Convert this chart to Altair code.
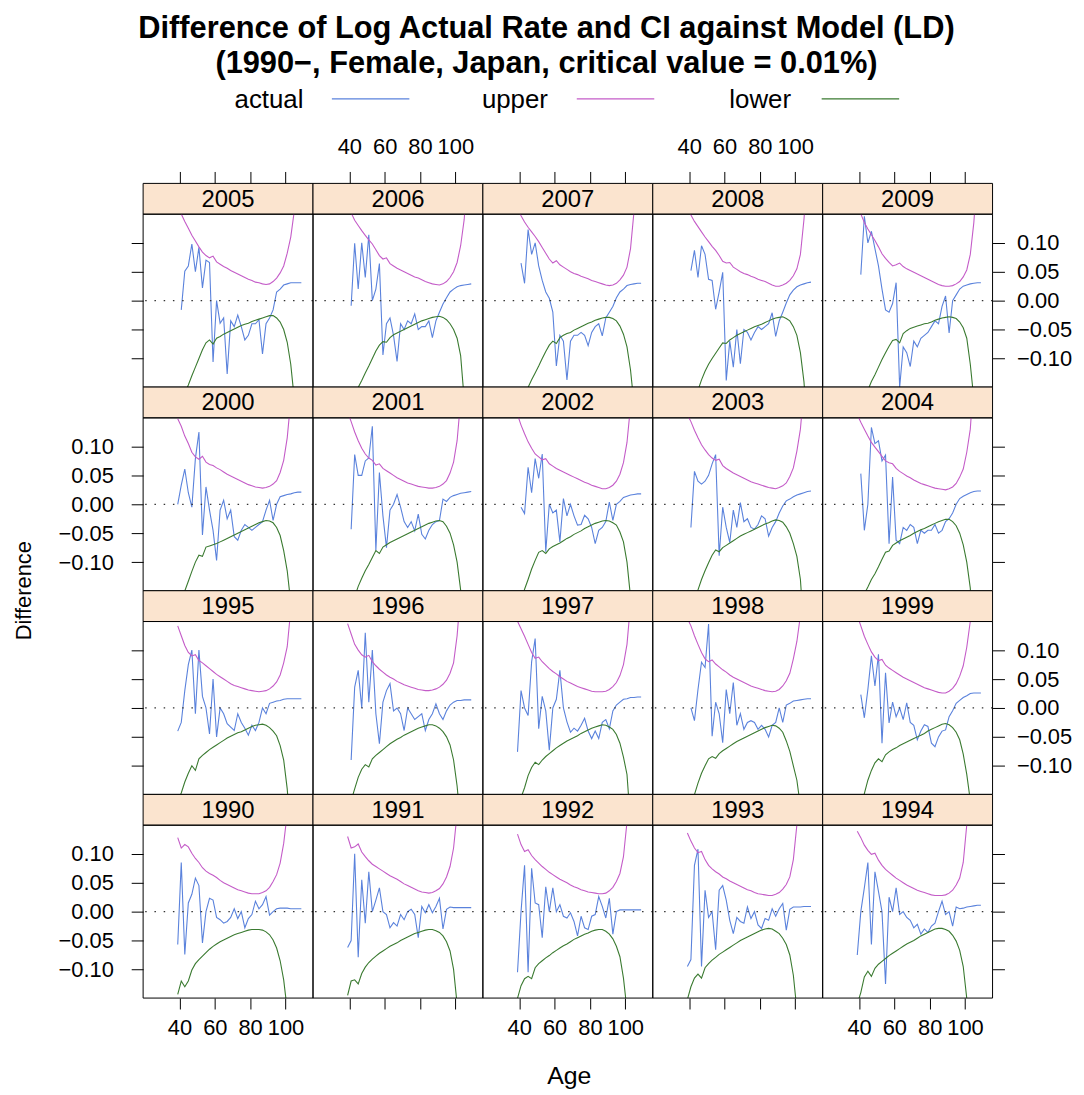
import altair as alt
import pandas as pd

FONT = "Liberation Sans"
AGES = list(range(39, 110, 2))  # 39, 41, ..., 109
SERIES = ["actual", "upper", "lower"]
COLORS = ["#5a82dc", "#c45cc8", "#3a7a30"]
STRIP_FILL = "#fbe4cf"
X_TICKS = [40, 60, 80, 100]
Y_TICKS = [-0.10, -0.05, 0.00, 0.05, 0.10]
ROW_YEARS = [
    [2005, 2006, 2007, 2008, 2009],
    [2000, 2001, 2002, 2003, 2004],
    [1995, 1996, 1997, 1998, 1999],
    [1990, 1991, 1992, 1993, 1994],
]
TITLE_LINES = [
    "Difference of Log Actual Rate and CI against Model (LD)",
    "(1990\u2212, Female, Japan, critical value = 0.01%)",
]
N = None

ACTUAL = {
    1990: [-0.057, 0.085, -0.074, 0.015, 0.030, 0.058,
           0.045, -0.054, 0.000, 0.023, 0.020, -0.010,
           -0.014, -0.020, -0.017, -0.010, 0.005, -0.012,
           0.000, -0.028, -0.012, -0.005, 0.018, 0.005,
           0.012, 0.026, -0.006, 0.000, 0.005, 0.006,
           0.006, 0.006, 0.005, 0.005, 0.005, 0.005],
    1991: [-0.062, -0.050, 0.100, -0.079, 0.055, -0.020,
           0.069, 0.000, 0.020, 0.041, 0.000, -0.005,
           -0.028, -0.019, -0.025, -0.005, -0.014, 0.000,
           0.004, -0.005, -0.045, 0.009, -0.002, 0.012,
           -0.002, 0.009, 0.023, -0.030, 0.004, 0.008,
           0.007, 0.007, 0.007, 0.007, 0.007, 0.007],
    1992: [-0.105, 0.000, 0.080, -0.105, 0.075, 0.015,
           0.012, -0.045, 0.043, 0.000, 0.041, 0.000,
           0.012, -0.008, -0.011, -0.002, -0.017, -0.042,
           -0.008, -0.028, -0.031, -0.008, -0.005, 0.026,
           0.009, -0.011, 0.023, -0.039, 0.000, 0.003,
           0.003, 0.003, 0.003, 0.003, 0.003, 0.003],
    1993: [-0.095, -0.083, 0.080, 0.108, -0.095, 0.037,
           -0.010, 0.000, -0.066, 0.037, 0.045, 0.020,
           -0.015, -0.038, -0.010, -0.017, -0.020, 0.008,
           -0.012, 0.000, -0.023, -0.029, -0.012, -0.015,
           0.005, -0.008, 0.005, 0.014, -0.032, 0.004,
           0.008, 0.008, 0.008, 0.009, 0.009, 0.009],
    1994: [-0.075, 0.000, 0.041, 0.085, -0.057, 0.069,
           0.035, 0.000, -0.125, 0.025, 0.000, 0.041,
           -0.005, 0.000, -0.010, -0.015, -0.028, -0.022,
           -0.039, -0.030, -0.036, -0.025, -0.020, 0.000,
           0.018, -0.005, 0.000, -0.025, 0.008, 0.005,
           0.006, 0.008, 0.009, 0.010, 0.011, 0.011],
    1995: [-0.040, -0.025, 0.030, 0.075, 0.100, -0.010,
           0.100, 0.020, 0.000, -0.045, 0.050, -0.050,
           0.000, -0.010, -0.027, -0.033, -0.039, -0.010,
           -0.025, -0.035, -0.047, -0.030, -0.039, -0.025,
           0.000, -0.010, 0.008, 0.010, 0.012, 0.013,
           0.015, 0.016, 0.016, 0.016, 0.016, 0.016],
    1996: [N, -0.090, 0.036, 0.065, 0.000, 0.130,
           0.010, 0.100, -0.010, -0.062, 0.010, 0.030,
           0.042, -0.005, 0.000, -0.010, -0.039, 0.000,
           -0.010, -0.020, -0.015, -0.010, -0.039, -0.020,
           -0.010, 0.007, -0.010, -0.020, -0.005, 0.005,
           0.010, 0.013, 0.013, 0.014, 0.014, 0.014],
    1997: [-0.076, 0.030, 0.000, -0.013, 0.080, 0.120,
           -0.036, 0.020, -0.005, -0.073, 0.000, 0.015,
           0.065, 0.000, -0.024, -0.042, -0.035, -0.040,
           -0.030, -0.018, -0.040, -0.053, -0.040, -0.053,
           -0.025, -0.020, -0.036, -0.005, 0.005, 0.010,
           0.015, 0.016, 0.018, 0.018, 0.019, 0.019],
    1998: [N, 0.000, -0.022, 0.032, 0.079, 0.070,
           0.145, -0.049, 0.010, -0.010, -0.060, 0.032,
           -0.010, 0.044, -0.030, -0.010, -0.037, -0.025,
           -0.022, -0.025, -0.037, -0.030, -0.037, -0.050,
           -0.030, -0.025, 0.000, -0.025, 0.005, 0.008,
           0.012, 0.013, 0.014, 0.015, 0.016, 0.016],
    1999: [N, 0.023, -0.017, 0.032, 0.090, 0.038,
           0.093, -0.061, 0.061, -0.026, 0.010, -0.015,
           0.000, -0.020, 0.009, -0.025, -0.030, -0.055,
           -0.040, -0.029, -0.032, -0.061, -0.067, -0.050,
           -0.040, -0.038, -0.015, -0.005, 0.008, 0.013,
           0.018, 0.021, 0.025, 0.026, 0.026, 0.026],
    2000: [0.000, 0.033, 0.061, 0.020, -0.005, 0.079,
           0.125, -0.053, 0.030, -0.010, -0.045, -0.097,
           -0.010, 0.007, -0.025, -0.010, -0.056, -0.062,
           -0.045, -0.035, -0.040, -0.045, -0.040, -0.035,
           -0.030, -0.010, 0.007, -0.028, 0.000, 0.013,
           0.015, 0.017, 0.018, 0.020, 0.021, 0.021],
    2001: [N, -0.043, 0.086, 0.050, 0.050, 0.075,
           0.080, 0.135, -0.080, 0.055, -0.020, -0.075,
           -0.010, 0.000, 0.017, -0.005, -0.030, -0.040,
           -0.030, -0.046, -0.017, -0.052, -0.060, -0.045,
           -0.035, -0.030, -0.028, 0.009, 0.005, 0.012,
           0.015, 0.017, 0.019, 0.020, 0.021, 0.022],
    2002: [N, -0.005, -0.016, 0.064, 0.020, 0.079,
           0.045, 0.087, -0.082, 0.000, -0.015, -0.010,
           -0.065, 0.010, -0.020, 0.000, -0.020, -0.036,
           -0.035, -0.019, -0.025, -0.040, -0.068, -0.045,
           -0.040, -0.030, 0.004, -0.028, 0.000, 0.005,
           0.012, 0.014, 0.016, 0.017, 0.018, 0.018],
    2003: [N, -0.040, 0.057, 0.040, 0.035, 0.040,
           0.050, 0.070, 0.086, -0.089, -0.005, -0.040,
           -0.066, -0.010, -0.040, 0.003, -0.030, -0.025,
           -0.040, -0.043, -0.035, -0.020, -0.025, -0.055,
           -0.040, -0.030, -0.015, -0.003, 0.006, 0.009,
           0.013, 0.016, 0.018, 0.020, 0.022, 0.023],
    2004: [N, 0.053, -0.045, 0.000, 0.133, 0.105,
           0.110, 0.075, 0.085, -0.068, 0.047, -0.062,
           -0.068, -0.040, -0.045, -0.035, -0.040, -0.068,
           -0.045, -0.050, -0.045, -0.045, -0.035, -0.050,
           -0.045, -0.030, -0.025, -0.015, 0.000, 0.010,
           0.014, 0.017, 0.020, 0.022, 0.023, 0.023],
    2005: [N, -0.016, 0.051, 0.060, 0.098, 0.050,
           0.092, 0.022, 0.070, 0.066, -0.106, 0.000,
           -0.039, -0.030, -0.127, -0.035, -0.045, -0.025,
           -0.045, -0.068, -0.060, -0.040, -0.040, -0.033,
           -0.092, -0.040, -0.030, -0.016, 0.015, 0.020,
           0.027, 0.029, 0.031, 0.031, 0.031, 0.031],
    2006: [N, -0.009, 0.099, 0.020, 0.100, 0.040,
           0.114, 0.000, 0.020, 0.064, -0.094, -0.040,
           -0.030, -0.060, -0.105, -0.040, -0.050, -0.035,
           -0.040, -0.023, -0.050, -0.045, -0.045, -0.035,
           -0.064, -0.035, -0.020, -0.006, 0.005, 0.015,
           0.020, 0.024, 0.026, 0.027, 0.028, 0.029],
    2007: [N, 0.065, 0.030, 0.123, 0.080, 0.100,
           0.060, 0.035, 0.015, 0.004, -0.020, -0.113,
           -0.060, -0.070, -0.137, -0.070, -0.060, -0.060,
           -0.055, -0.060, -0.078, -0.055, -0.045, -0.040,
           -0.061, -0.030, -0.020, -0.010, 0.005, 0.015,
           0.020, 0.026, 0.028, 0.029, 0.030, 0.030],
    2008: [N, 0.052, 0.087, 0.040, 0.095, 0.080,
           0.037, 0.035, -0.015, 0.015, 0.049, -0.138,
           -0.070, -0.115, -0.050, -0.109, -0.050, -0.055,
           -0.068, -0.055, -0.045, -0.050, -0.045, -0.040,
           -0.021, -0.062, -0.035, -0.020, -0.004, 0.010,
           0.018, 0.024, 0.027, 0.029, 0.031, 0.032],
    2009: [N, 0.045, 0.146, 0.100, 0.120, 0.090,
           0.060, 0.020, -0.016, -0.020, -0.005, 0.031,
           -0.150, -0.080, -0.090, -0.114, -0.070, -0.080,
           -0.065, -0.060, -0.055, -0.045, -0.035, -0.040,
           -0.010, 0.008, -0.056, 0.000, 0.010, 0.020,
           0.025, 0.027, 0.029, 0.030, 0.031, 0.031],
}

UPPER = {
    1990: [0.128, 0.110, 0.116, 0.112, 0.101, 0.092,
           0.085, 0.076, 0.070, 0.066, 0.063, 0.059,
           0.054, 0.050, 0.047, 0.044, 0.041, 0.038,
           0.036, 0.034, 0.032, 0.031, 0.031, 0.031,
           0.033, 0.036, 0.042, 0.052, 0.064, 0.084,
           0.118, 0.170, 0.250, N, N, N],
    1991: [0.130, 0.110, 0.112, 0.117, 0.103, 0.095,
           0.088, 0.082, 0.078, 0.074, 0.070, 0.066,
           0.062, 0.059, 0.056, 0.052, 0.048, 0.045,
           0.042, 0.039, 0.036, 0.034, 0.033, 0.032,
           0.033, 0.036, 0.040, 0.048, 0.060, 0.078,
           0.110, 0.170, 0.250, N, N, N],
    1992: [0.134, 0.116, 0.104, 0.107, 0.097, 0.090,
           0.084, 0.078, 0.073, 0.068, 0.064, 0.060,
           0.056, 0.053, 0.050, 0.046, 0.043, 0.041,
           0.038, 0.036, 0.034, 0.033, 0.032, 0.031,
           0.031, 0.032, 0.036, 0.042, 0.052, 0.066,
           0.095, 0.155, 0.250, N, N, N],
    1993: [0.136, 0.122, 0.110, 0.102, 0.104, 0.090,
           0.080, 0.074, 0.069, 0.065, 0.060, 0.057,
           0.053, 0.050, 0.047, 0.044, 0.041, 0.038,
           0.036, 0.033, 0.031, 0.030, 0.029, 0.028,
           0.028, 0.030, 0.033, 0.039, 0.047, 0.060,
           0.090, 0.150, 0.250, N, N, N],
    1994: [0.139, 0.128, 0.115, 0.106, 0.099, 0.101,
           0.089, 0.080, 0.073, 0.068, 0.063, 0.058,
           0.054, 0.050, 0.046, 0.043, 0.040, 0.037,
           0.035, 0.033, 0.031, 0.029, 0.028, 0.028,
           0.028, 0.029, 0.032, 0.037, 0.046, 0.058,
           0.085, 0.150, 0.250, N, N, N],
    1995: [0.142, 0.125, 0.108, 0.096, 0.090, 0.092,
           0.082, 0.078, 0.073, 0.068, 0.063, 0.058,
           0.054, 0.050, 0.046, 0.042, 0.039, 0.037,
           0.035, 0.033, 0.031, 0.030, 0.029, 0.028,
           0.029, 0.030, 0.033, 0.038, 0.045, 0.057,
           0.078, 0.106, 0.170, 0.250, N, N],
    1996: [0.146, 0.128, 0.110, 0.100, 0.092, 0.088,
           0.091, 0.080, 0.073, 0.067, 0.062, 0.057,
           0.053, 0.050, 0.046, 0.043, 0.040, 0.038,
           0.036, 0.034, 0.032, 0.031, 0.030, 0.030,
           0.031, 0.033, 0.036, 0.041, 0.048, 0.060,
           0.078, 0.125, 0.200, 0.300, N, N],
    1997: [0.150, 0.137, 0.124, 0.110, 0.096, 0.086,
           0.088, 0.080, 0.074, 0.068, 0.063, 0.059,
           0.054, 0.050, 0.046, 0.043, 0.040, 0.037,
           0.035, 0.033, 0.031, 0.029, 0.028, 0.028,
           0.028, 0.029, 0.032, 0.037, 0.044, 0.056,
           0.075, 0.110, 0.180, 0.300, N, N],
    1998: [0.155, 0.142, 0.125, 0.110, 0.096, 0.085,
           0.080, 0.083, 0.076, 0.071, 0.066, 0.062,
           0.057, 0.053, 0.050, 0.047, 0.044, 0.041,
           0.038, 0.036, 0.034, 0.032, 0.030, 0.029,
           0.028, 0.029, 0.032, 0.038, 0.047, 0.060,
           0.085, 0.115, 0.160, 0.250, N, N],
    1999: [0.160, 0.142, 0.124, 0.110, 0.097, 0.088,
           0.082, 0.084, 0.074, 0.069, 0.065, 0.061,
           0.057, 0.053, 0.050, 0.047, 0.044, 0.041,
           0.038, 0.035, 0.033, 0.031, 0.029, 0.027,
           0.026, 0.026, 0.029, 0.034, 0.042, 0.055,
           0.073, 0.105, 0.150, 0.250, N, N],
    2000: [0.148, 0.135, 0.118, 0.105, 0.090, 0.082,
           0.078, 0.083, 0.073, 0.069, 0.067, 0.063,
           0.060, 0.056, 0.052, 0.049, 0.046, 0.043,
           0.040, 0.037, 0.034, 0.032, 0.030, 0.029,
           0.028, 0.029, 0.031, 0.035, 0.041, 0.055,
           0.076, 0.115, 0.180, 0.300, N, N],
    2001: [0.160, 0.143, 0.125, 0.110, 0.097, 0.087,
           0.080, 0.076, 0.068, 0.070, 0.062, 0.058,
           0.054, 0.050, 0.046, 0.043, 0.040, 0.037,
           0.035, 0.033, 0.031, 0.030, 0.029, 0.028,
           0.028, 0.029, 0.031, 0.035, 0.041, 0.054,
           0.073, 0.110, 0.180, 0.300, N, N],
    2002: [0.155, 0.137, 0.122, 0.108, 0.097, 0.087,
           0.082, 0.077, 0.079, 0.070, 0.066, 0.062,
           0.059, 0.056, 0.053, 0.050, 0.047, 0.044,
           0.041, 0.038, 0.036, 0.033, 0.031, 0.029,
           0.027, 0.027, 0.029, 0.033, 0.040, 0.052,
           0.072, 0.107, 0.170, 0.300, N, N],
    2003: [0.155, 0.143, 0.128, 0.115, 0.103, 0.094,
           0.086, 0.080, 0.076, 0.078, 0.067, 0.062,
           0.058, 0.054, 0.051, 0.048, 0.045, 0.042,
           0.039, 0.037, 0.035, 0.033, 0.031, 0.029,
           0.028, 0.027, 0.029, 0.032, 0.037, 0.048,
           0.063, 0.092, 0.130, 0.200, N, N],
    2004: [0.155, 0.142, 0.130, 0.118, 0.107, 0.099,
           0.091, 0.083, 0.075, 0.072, 0.070, 0.062,
           0.057, 0.053, 0.049, 0.046, 0.042, 0.039,
           0.036, 0.034, 0.032, 0.030, 0.028, 0.027,
           0.026, 0.025, 0.027, 0.030, 0.036, 0.047,
           0.061, 0.090, 0.130, 0.220, N, N],
    2005: [0.160, 0.150, 0.137, 0.125, 0.113, 0.103,
           0.093, 0.084, 0.078, 0.074, 0.077, 0.067,
           0.063, 0.059, 0.056, 0.052, 0.049, 0.046,
           0.043, 0.040, 0.037, 0.035, 0.032, 0.031,
           0.029, 0.028, 0.029, 0.033, 0.039, 0.048,
           0.060, 0.082, 0.110, 0.155, N, N],
    2006: [0.165, 0.152, 0.139, 0.130, 0.121, 0.113,
           0.105, 0.098, 0.088, 0.078, 0.072, 0.074,
           0.064, 0.060, 0.056, 0.053, 0.050, 0.047,
           0.044, 0.041, 0.039, 0.036, 0.033, 0.031,
           0.029, 0.028, 0.027, 0.029, 0.033, 0.040,
           0.050, 0.066, 0.095, 0.140, 0.220, N],
    2007: [0.160, 0.147, 0.136, 0.127, 0.119, 0.111,
           0.102, 0.092, 0.082, 0.072, 0.065, 0.069,
           0.062, 0.058, 0.054, 0.050, 0.047, 0.045,
           0.042, 0.040, 0.038, 0.035, 0.033, 0.031,
           0.029, 0.027, 0.026, 0.027, 0.030, 0.036,
           0.044, 0.058, 0.090, 0.155, N, N],
    2008: [0.160, 0.148, 0.137, 0.128, 0.119, 0.110,
           0.102, 0.094, 0.087, 0.078, 0.068, 0.065,
           0.066, 0.058, 0.054, 0.050, 0.047, 0.045,
           0.042, 0.040, 0.037, 0.035, 0.033, 0.030,
           0.027, 0.025, 0.025, 0.027, 0.030, 0.035,
           0.043, 0.055, 0.080, 0.140, 0.220, N],
    2009: [0.170, 0.150, 0.135, 0.124, 0.114, 0.104,
           0.093, 0.081, 0.073, 0.066, 0.060, 0.062,
           0.065, 0.059, 0.055, 0.052, 0.049, 0.046,
           0.043, 0.040, 0.037, 0.034, 0.031, 0.028,
           0.026, 0.025, 0.025, 0.026, 0.029, 0.033,
           0.041, 0.053, 0.080, 0.135, 0.220, N],
}

LOWER = {
    1990: [-0.143, -0.120, -0.130, -0.120, -0.101, -0.090,
           -0.083, -0.077, -0.071, -0.065, -0.060, -0.056,
           -0.052, -0.049, -0.046, -0.043, -0.040, -0.038,
           -0.036, -0.034, -0.032, -0.031, -0.031, -0.031,
           -0.032, -0.035, -0.040, -0.049, -0.063, -0.085,
           -0.118, -0.170, -0.250, N, N, N],
    1991: [-0.145, -0.120, -0.118, -0.125, -0.107, -0.096,
           -0.088, -0.082, -0.077, -0.072, -0.068, -0.064,
           -0.060, -0.057, -0.054, -0.050, -0.047, -0.044,
           -0.041, -0.038, -0.036, -0.034, -0.032, -0.031,
           -0.031, -0.033, -0.036, -0.042, -0.052, -0.068,
           -0.100, -0.160, -0.250, N, N, N],
    1992: [-0.150, -0.128, -0.116, -0.112, -0.116, -0.097,
           -0.090, -0.085, -0.080, -0.076, -0.071, -0.067,
           -0.063, -0.059, -0.056, -0.052, -0.048, -0.045,
           -0.042, -0.039, -0.037, -0.034, -0.032, -0.031,
           -0.031, -0.034, -0.039, -0.047, -0.060, -0.078,
           -0.115, -0.170, -0.250, N, N, N],
    1993: [-0.152, -0.130, -0.115, -0.108, -0.115, -0.097,
           -0.090, -0.084, -0.079, -0.074, -0.070, -0.066,
           -0.062, -0.058, -0.054, -0.050, -0.047, -0.044,
           -0.041, -0.038, -0.035, -0.032, -0.030, -0.029,
           -0.030, -0.034, -0.038, -0.046, -0.057, -0.075,
           -0.110, -0.170, -0.250, N, N, N],
    1994: [-0.160, -0.140, -0.113, -0.103, -0.112, -0.098,
           -0.091, -0.086, -0.081, -0.076, -0.072, -0.068,
           -0.064, -0.060, -0.056, -0.053, -0.050, -0.046,
           -0.042, -0.039, -0.036, -0.033, -0.030, -0.029,
           -0.029, -0.031, -0.034, -0.041, -0.051, -0.067,
           -0.095, -0.150, -0.250, N, N, N],
    1995: [-0.160, -0.147, -0.128, -0.113, -0.100, -0.108,
           -0.088, -0.082, -0.077, -0.072, -0.068, -0.064,
           -0.060, -0.056, -0.052, -0.049, -0.046, -0.043,
           -0.041, -0.038, -0.035, -0.032, -0.030, -0.029,
           -0.028, -0.030, -0.034, -0.040, -0.048, -0.065,
           -0.090, -0.140, -0.220, -0.300, N, N],
    1996: [-0.180, -0.160, -0.140, -0.120, -0.106, -0.098,
           -0.102, -0.088, -0.082, -0.077, -0.072, -0.067,
           -0.062, -0.058, -0.054, -0.051, -0.047, -0.044,
           -0.041, -0.038, -0.035, -0.033, -0.031, -0.029,
           -0.029, -0.031, -0.035, -0.041, -0.050, -0.064,
           -0.090, -0.135, -0.200, -0.300, N, N],
    1997: [-0.170, -0.155, -0.138, -0.117, -0.103, -0.094,
           -0.098, -0.090, -0.084, -0.079, -0.074, -0.069,
           -0.065, -0.061, -0.057, -0.054, -0.051, -0.048,
           -0.044, -0.041, -0.038, -0.035, -0.033, -0.031,
           -0.029, -0.030, -0.033, -0.037, -0.046, -0.061,
           -0.085, -0.115, -0.200, -0.300, N, N],
    1998: [-0.190, -0.175, -0.150, -0.130, -0.113, -0.100,
           -0.088, -0.084, -0.087, -0.079, -0.074, -0.070,
           -0.066, -0.062, -0.058, -0.055, -0.052, -0.049,
           -0.046, -0.043, -0.040, -0.037, -0.034, -0.032,
           -0.030, -0.031, -0.035, -0.042, -0.057, -0.075,
           -0.100, -0.125, -0.170, -0.250, N, N],
    1999: [-0.190, -0.170, -0.148, -0.125, -0.108, -0.095,
           -0.088, -0.093, -0.081, -0.076, -0.072, -0.069,
           -0.065, -0.062, -0.059, -0.056, -0.053, -0.050,
           -0.047, -0.044, -0.040, -0.037, -0.034, -0.031,
           -0.028, -0.027, -0.029, -0.034, -0.042, -0.055,
           -0.080, -0.115, -0.160, -0.250, N, N],
    2000: [-0.200, -0.180, -0.150, -0.133, -0.116, -0.100,
           -0.088, -0.090, -0.074, -0.072, -0.070, -0.068,
           -0.065, -0.062, -0.059, -0.056, -0.053, -0.050,
           -0.047, -0.044, -0.041, -0.038, -0.035, -0.032,
           -0.030, -0.028, -0.029, -0.032, -0.040, -0.054,
           -0.080, -0.115, -0.170, -0.250, N, N],
    2001: [-0.220, -0.200, -0.160, -0.142, -0.128, -0.115,
           -0.104, -0.092, -0.080, -0.085, -0.074, -0.070,
           -0.066, -0.063, -0.060, -0.057, -0.054, -0.051,
           -0.048, -0.045, -0.042, -0.039, -0.036, -0.033,
           -0.031, -0.029, -0.028, -0.030, -0.038, -0.050,
           -0.070, -0.100, -0.148, -0.250, N, N],
    2002: [-0.200, -0.170, -0.147, -0.130, -0.112, -0.097,
           -0.083, -0.080, -0.085, -0.077, -0.073, -0.070,
           -0.067, -0.063, -0.059, -0.056, -0.052, -0.049,
           -0.046, -0.042, -0.039, -0.036, -0.033, -0.031,
           -0.029, -0.028, -0.029, -0.032, -0.036, -0.048,
           -0.065, -0.100, -0.160, -0.300, N, N],
    2003: [-0.220, -0.200, -0.170, -0.148, -0.130, -0.115,
           -0.101, -0.088, -0.079, -0.082, -0.075, -0.071,
           -0.067, -0.063, -0.059, -0.055, -0.052, -0.049,
           -0.046, -0.043, -0.040, -0.037, -0.034, -0.032,
           -0.029, -0.027, -0.028, -0.031, -0.039, -0.050,
           -0.068, -0.090, -0.130, -0.220, N, N],
    2004: [-0.200, -0.180, -0.155, -0.143, -0.130, -0.120,
           -0.108, -0.095, -0.083, -0.081, -0.071, -0.067,
           -0.063, -0.060, -0.057, -0.054, -0.050, -0.047,
           -0.044, -0.042, -0.039, -0.036, -0.033, -0.030,
           -0.028, -0.026, -0.026, -0.030, -0.037, -0.050,
           -0.070, -0.100, -0.145, -0.250, N, N],
    2005: [-0.200, -0.180, -0.160, -0.146, -0.130, -0.115,
           -0.100, -0.085, -0.073, -0.068, -0.075, -0.065,
           -0.062, -0.058, -0.055, -0.052, -0.049, -0.046,
           -0.043, -0.041, -0.039, -0.036, -0.034, -0.032,
           -0.030, -0.028, -0.026, -0.026, -0.030, -0.037,
           -0.050, -0.072, -0.110, -0.170, N, N],
    2006: [-0.200, -0.180, -0.165, -0.150, -0.138, -0.125,
           -0.113, -0.100, -0.087, -0.077, -0.071, -0.072,
           -0.064, -0.059, -0.056, -0.053, -0.050, -0.047,
           -0.044, -0.041, -0.038, -0.035, -0.033, -0.031,
           -0.029, -0.028, -0.027, -0.029, -0.033, -0.040,
           -0.050, -0.065, -0.095, -0.170, N, N],
    2007: [-0.210, -0.190, -0.165, -0.150, -0.137, -0.125,
           -0.113, -0.100, -0.088, -0.077, -0.070, -0.074,
           -0.064, -0.060, -0.057, -0.055, -0.051, -0.048,
           -0.045, -0.042, -0.039, -0.037, -0.034, -0.032,
           -0.030, -0.029, -0.029, -0.031, -0.035, -0.044,
           -0.058, -0.080, -0.120, -0.180, N, N],
    2008: [-0.220, -0.200, -0.170, -0.155, -0.137, -0.122,
           -0.110, -0.100, -0.091, -0.082, -0.073, -0.074,
           -0.068, -0.064, -0.060, -0.057, -0.054, -0.051,
           -0.048, -0.045, -0.043, -0.041, -0.038, -0.035,
           -0.032, -0.030, -0.029, -0.028, -0.031, -0.035,
           -0.045, -0.060, -0.090, -0.140, -0.220, N],
    2009: [-0.220, -0.200, -0.175, -0.155, -0.140, -0.128,
           -0.115, -0.102, -0.090, -0.079, -0.069, -0.067,
           -0.073, -0.057, -0.052, -0.048, -0.046, -0.044,
           -0.042, -0.040, -0.039, -0.037, -0.034, -0.032,
           -0.030, -0.029, -0.028, -0.029, -0.031, -0.037,
           -0.047, -0.065, -0.110, -0.170, N, N],
}

# ---------------------------------------------------------------- data table
records = []
for year in ACTUAL:
    for name, table in zip(SERIES, (ACTUAL, UPPER, LOWER)):
        for age, v in zip(AGES, table[year]):
            if v is not None:
                records.append({"year": year, "series": name, "age": age, "value": v})
df = pd.DataFrame(records)

# ---------------------------------------------------------------- layout
W, H, STRIP = 171, 174, 31
XDOM = [19.4, 115.6]
YDOM = [-0.1495, 0.1495]


def make_axis(**kw):
    base = dict(domain=False, grid=False, ticks=True, tickColor="black", tickWidth=1,
                labelColor="black", labelFont=FONT, labelFontSize=22, labelFlush=False,
                labelOverlap=False, title=None)
    base.update(kw)
    return alt.Axis(**base)


def panel(year, r, c):
    d = df[df["year"] == year]
    if r == 3:
        xa = make_axis(orient="bottom", values=X_TICKS, tickSize=11,
                       labels=(c % 2 == 0), labelPadding=9)
    elif r == 0:
        xa = make_axis(orient="top", values=X_TICKS, tickSize=12, offset=STRIP,
                       labels=(c % 2 == 1), labelPadding=13)
    else:
        xa = None
    if c == 0:
        ya = make_axis(orient="left", values=Y_TICKS, format=".2f", tickSize=12,
                       labels=(r % 2 == 1), labelPadding=18)
    elif c == 4:
        ya = make_axis(orient="right", values=Y_TICKS, format=".2f", tickSize=12,
                       labels=(r % 2 == 0), labelPadding=12)
    else:
        ya = None

    xs = alt.Scale(domain=XDOM, nice=False, zero=False)
    ys = alt.Scale(domain=YDOM, nice=False, zero=False)
    one = pd.DataFrame({"label": [str(year)]})

    strip = alt.Chart(one).mark_rect(fill=STRIP_FILL, stroke="black", strokeWidth=1).encode(
        x=alt.value(0), x2=alt.value(W), y=alt.value(-STRIP), y2=alt.value(0))
    strip_text = alt.Chart(one).mark_text(font=FONT, fontSize=24, color="black",
                                          align="center", baseline="middle").encode(
        x=alt.value(W / 2), y=alt.value(-STRIP / 2 + 1), text="label:N")
    lines = alt.Chart(d).mark_line(clip=True, strokeWidth=1.1).encode(
        x=alt.X("age:Q", scale=xs, axis=xa),
        y=alt.Y("value:Q", scale=ys, axis=ya),
        color=alt.Color("series:N", scale=alt.Scale(domain=SERIES, range=COLORS), legend=None),
    )
    zero = alt.Chart(pd.DataFrame({"value": [0.0]})).mark_rule(
        color="#333333", strokeWidth=1.2, strokeDash=[1.5, 7.8]).encode(
        y=alt.Y("value:Q", scale=ys, axis=ya))
    border = alt.Chart(one).mark_rect(fillOpacity=0, stroke="black", strokeWidth=1).encode(
        x=alt.value(0), x2=alt.value(W), y=alt.value(0), y2=alt.value(H))
    layers = [strip, strip_text, lines, zero, border]

    if r == 1 and c == 0:
        layers.append(alt.Chart(pd.DataFrame({"t": ["Difference"]})).mark_text(
            font=FONT, fontSize=22, color="black", angle=270, align="center", baseline="middle"
        ).encode(x=alt.value(-120), y=alt.value(H), text="t:N"))
    if r == 3 and c == 2:
        layers.append(alt.Chart(pd.DataFrame({"t": ["Age"]})).mark_text(
            font=FONT, fontSize=25, color="black", align="center", baseline="alphabetic"
        ).encode(x=alt.value(87), y=alt.value(260), text="t:N"))
    return alt.layer(*layers).properties(width=W, height=H)


panels = [panel(y, r, c) for r, years in enumerate(ROW_YEARS) for c, y in enumerate(years)]
grid = alt.concat(*panels, columns=5, spacing={"row": STRIP, "column": 0}, bounds="flush")

# ---------------------------------------------------------------- title + key
leg_df = pd.DataFrame({"series": SERIES, "i": [0, 1, 2]})
title_df = pd.DataFrame({"line": TITLE_LINES, "k": [0, 1]})

title_layer = alt.Chart(title_df).transform_calculate(ty="27 + 35 * datum.k").mark_text(
    font=FONT, fontSize=31, fontWeight="bold", color="black", align="center", baseline="alphabetic"
).encode(x=alt.value(406), y=alt.Y("ty:Q", scale=None, axis=None), text="line:N")

leg_base = alt.Chart(leg_df).transform_calculate(
    tx="92 + 249 * datum.i", lx1="190 + 246.5 * datum.i", lx2="268 + 246.5 * datum.i")
leg_text = leg_base.mark_text(font=FONT, fontSize=26, color="black",
                              align="left", baseline="alphabetic").encode(
    x=alt.X("tx:Q", scale=None, axis=None), y=alt.value(97), text="series:N")
leg_line = leg_base.mark_rule(strokeWidth=1.2).encode(
    x=alt.X("lx1:Q", scale=None, axis=None), x2="lx2:Q", y=alt.value(88),
    color=alt.Color("series:N", scale=alt.Scale(domain=SERIES, range=COLORS), legend=None))

header = alt.layer(title_layer, leg_text, leg_line).properties(width=5 * W, height=100)

chart = alt.vconcat(header, grid, spacing=104, bounds="flush").properties(
    padding={"left": 5, "top": 0, "right": 4, "bottom": 0}
).configure_view(strokeWidth=0)

chart.save("out.html", embed_options={"renderer": "svg", "actions": False})
